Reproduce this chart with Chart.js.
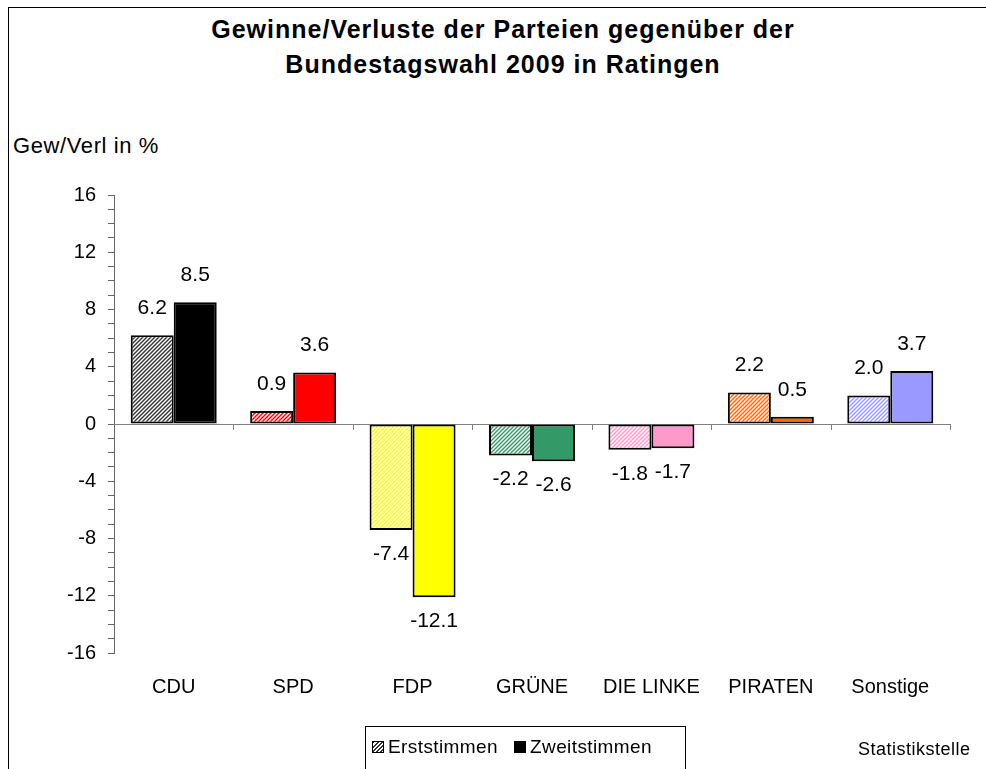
<!DOCTYPE html>
<html>
<head>
<meta charset="utf-8">
<script src="https://cdn.jsdelivr.net/npm/chart.js@4.4.1/dist/chart.umd.min.js"></script>
<style>
  body { margin: 0; background: #fff; width: 986px; height: 769px; overflow: hidden; position: relative;
         font-family: "Liberation Sans", Arial, sans-serif; color: #000; }
  #frame { position: absolute; left: 8px; top: 7px; width: 1200px; height: 1000px;
           border-left: 1px solid #000; border-top: 1px solid #000; }
  #wrap { position: absolute; left: 0; top: 0; width: 986px; height: 769px; }
  .title { position: absolute; left: 0; width: 1006px; text-align: center; font-weight: bold;
           font-size: 25px; line-height: 25px; letter-spacing: 1px; white-space: nowrap; }
  #ylabel { position: absolute; left: 13px; top: 135px; font-size: 22px; line-height: 22px; letter-spacing: 0.6px; }
  #source { position: absolute; left: 858px; top: 740px; font-size: 18px; line-height: 18px; letter-spacing: 0.5px; }
  #legend { position: absolute; left: 365px; top: 726px; width: 321px; height: 44px; box-sizing: border-box;
            border: 1px solid #000; font-size: 19px; }
  #legend .sq { position: absolute; top: 14px; width: 12px; height: 12px; box-sizing: border-box; border: 1px solid #000; }
  #legend .txt { position: absolute; top: 10px; line-height: 19px; letter-spacing: 0.4px; }
</style>
</head>
<body>
<div id="frame"></div>
<div class="title" style="top:17px">Gewinne/Verluste der Parteien gegenüber der</div>
<div class="title" style="top:52px">Bundestagswahl 2009 in Ratingen</div>
<div id="ylabel">Gew/Verl in %</div>
<div id="wrap"><canvas id="chart"></canvas></div>
<div id="legend">
  <span class="sq" style="left:6px; background: repeating-linear-gradient(135deg, #333 0 1.4px, #fff 1.4px 3px);"></span>
  <span class="txt" style="left:22px">Erststimmen</span>
  <span class="sq" style="left:148px; background:#000"></span>
  <span class="txt" style="left:164px">Zweitstimmen</span>
</div>
<div id="source">Statistikstelle</div>

<script>
// --- data ---
const categories = ['CDU', 'SPD', 'FDP', 'GRÜNE', 'DIE LINKE', 'PIRATEN', 'Sonstige'];
const erststimmen = [6.2, 0.9, -7.4, -2.2, -1.8, 2.2, 2.0];
const zweitstimmen = [8.5, 3.6, -12.1, -2.6, -1.7, 0.5, 3.7];
const partyColors = ['#000000', '#FF0000', '#FFFF00', '#339966', '#FF99CC', '#FF6600', '#9999FF'];
const hatchColors = ['#333333', '#FF0000', '#FFFF00', '#339966', '#FF99CC', '#FF6600', '#9999FF'];
const yTickLabels = [-16, -12, -8, -4, 0, 4, 8, 12, 16];

const FONT = '"Liberation Sans", Arial, sans-serif';

// diagonal hatch on white, like the Erststimmen bars
function hatch(color) {
    const n = 4;
    const c = document.createElement('canvas');
    c.width = n; c.height = n;
    const g = c.getContext('2d');
    g.fillStyle = '#fff';
    g.fillRect(0, 0, n, n);
    g.strokeStyle = color;
    g.lineWidth = 1.4;
    g.beginPath();
    g.moveTo(-1, n + 1); g.lineTo(n + 1, -1);
    g.moveTo(-1, 1); g.lineTo(1, -1);
    g.moveTo(n - 1, n + 1); g.lineTo(n + 1, n - 1);
    g.stroke();
    return g.createPattern(c, 'repeat');
}

// zero line + tick marks between categories
const zeroLine = {
    id: 'zeroLine',
    beforeDatasetsDraw(chart) {
        const { ctx, chartArea, scales: { x, y } } = chart;
        const y0 = y.getPixelForValue(0);
        ctx.save();
        ctx.strokeStyle = '#808080';
        ctx.lineWidth = 1;
        ctx.beginPath();
        ctx.moveTo(chartArea.left, Math.round(y0) + 0.5);
        ctx.lineTo(chartArea.right, Math.round(y0) + 0.5);
        const half = (x.getPixelForValue(1) - x.getPixelForValue(0)) / 2;
        for (let i = 0; i < categories.length; i++) {
            const bx = Math.round(x.getPixelForValue(i) + half) + 0.5;
            ctx.moveTo(bx, y0);
            ctx.lineTo(bx, y0 + 6);
        }
        ctx.stroke();
        ctx.restore();
    }
};

// value labels above / below bars
const valueLabels = {
    id: 'valueLabels',
    afterDatasetsDraw(chart) {
        const { ctx } = chart;
        ctx.save();
        ctx.font = '21px ' + FONT;
        ctx.fillStyle = '#000';
        ctx.textAlign = 'center';
        ctx.textBaseline = 'middle';
        chart.data.datasets.forEach((ds, di) => {
            chart.getDatasetMeta(di).data.forEach((bar, i) => {
                const v = ds.data[i];
                const ty = v >= 0 ? bar.y - 27 : bar.y + 24;
                ctx.fillText(v.toFixed(1), bar.x, ty);
            });
        });
        ctx.restore();
    }
};

new Chart(document.getElementById('chart'), {
    type: 'bar',
    data: {
        labels: categories,
        datasets: [
            {
                label: 'Erststimmen',
                data: erststimmen,
                backgroundColor: hatchColors.map(hatch),
                borderColor: '#000',
                borderWidth: 2,
                borderSkipped: false
            },
            {
                label: 'Zweitstimmen',
                data: zweitstimmen,
                backgroundColor: partyColors,
                borderColor: '#000',
                borderWidth: 2,
                borderSkipped: false
            }
        ]
    },
    options: {
        responsive: true,
        maintainAspectRatio: false,
        animation: false,
        devicePixelRatio: 1,
        layout: { padding: { top: 195, right: 36, bottom: 56, left: 0 } },
        datasets: { bar: { barPercentage: 1, categoryPercentage: 0.72 } },
        plugins: {
            legend: { display: false },
            title: { display: false },
            tooltip: { enabled: false }
        },
        scales: {
            x: {
                grid: { display: false, drawTicks: false },
                border: { display: false },
                ticks: { color: '#000', font: { family: FONT, size: 20 }, padding: 22, maxRotation: 0 },
                afterFit: (scale) => { scale.height = 60; }
            },
            y: {
                min: -16,
                max: 16,
                grid: { drawOnChartArea: false, drawTicks: true, tickLength: 6, color: '#666' },
                border: { display: true, color: '#666', width: 1 },
                ticks: {
                    stepSize: 1,
                    autoSkip: false,
                    color: '#000',
                    padding: 12,
                    font: { family: FONT, size: 20 },
                    callback: (v) => yTickLabels.includes(v) ? v : ''
                },
                afterFit: (scale) => { scale.width = 114; }
            }
        }
    },
    plugins: [zeroLine, valueLabels]
});
</script>
</body>
</html>
